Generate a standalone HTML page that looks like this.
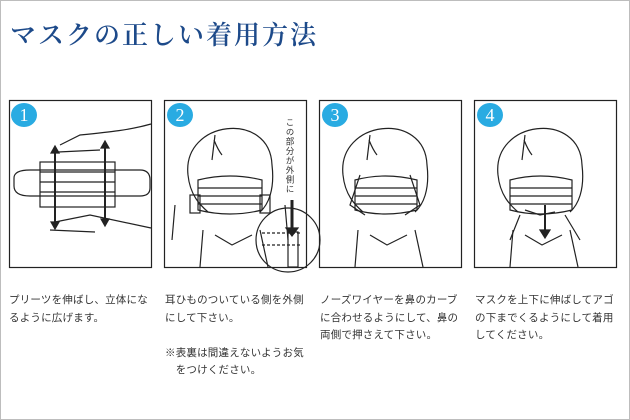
<!DOCTYPE html>
<html><head><meta charset="utf-8"><style>
html,body{margin:0;padding:0;background:#fff}
body{width:630px;height:420px;position:relative;overflow:hidden;font-family:"Liberation Sans","Noto Sans CJK JP",sans-serif}
.frame{position:absolute;left:0;top:0;width:628px;height:418px;border:1px solid #bdbdbd}
h1{position:absolute;left:10px;top:21px;margin:0;font-family:"Liberation Serif","Noto Serif CJK SC",serif;font-weight:600;font-size:26px;line-height:30px;color:#1d4a8a;letter-spacing:2px}
.t{position:absolute;top:292px;font-size:10.5px;line-height:17.5px;color:#333;width:142px;letter-spacing:0.2px}
.v{position:absolute;left:284px;top:118px;writing-mode:vertical-rl;font-size:8.5px;color:#333;letter-spacing:1px}
</style></head><body>
<div class="frame"></div>
<h1>マスクの正しい着用方法</h1>
<svg width="630" height="420" style="position:absolute;left:0;top:0" fill="none" stroke="#222" stroke-width="1.2">
<rect x="9.5" y="100.5" width="142" height="167"/>
<rect x="164.5" y="100.5" width="142" height="167"/>
<rect x="319.5" y="100.5" width="142" height="167"/>
<rect x="474.5" y="100.5" width="142" height="167"/>
<g fill="#29abe2" stroke="none">
<ellipse cx="24" cy="115" rx="13" ry="12"/><ellipse cx="180" cy="115" rx="13" ry="12"/>
<ellipse cx="335" cy="115" rx="13" ry="12"/><ellipse cx="490" cy="115" rx="13" ry="12"/>
</g>
<g fill="#fff" stroke="none" font-family="Liberation Serif,serif" font-size="18" text-anchor="middle">
<text x="24" y="121">1</text><text x="180" y="121">2</text><text x="335" y="121">3</text><text x="490" y="121">4</text>
</g>
<path d="M151 124 C130 130 110 132 80 135 L60 145 M58 152 L100 150"/>
<path d="M14 178 Q14 170 30 170 L140 170 Q150 170 150 180 L150 188 Q150 196 140 196 L30 196 Q14 196 14 186 Z"/>
<rect x="40" y="162" width="75" height="45"/>
<path d="M40 172 H115 M40 182 H115 M40 192 H115"/>
<path d="M55 222 L90 215 L151 228 M50 230 L95 232"/>
<g stroke-width="2"><path d="M55 150 V225 M105 145 V222"/></g>
<g fill="#222"><path d="M51 153 L55 146 L59 153Z M51 222 L55 229 L59 222Z M101 148 L105 141 L109 148Z M101 219 L105 226 L109 219Z"/></g>
<g id="f">
<path d="M188 175 C182 120 270 110 272 165 C275 190 268 205 260 212 M188 175 C190 195 200 205 208 212"/>
<path d="M215 135 L212 160 M214 140 Q218 150 222 155"/>
<path d="M203 230 L200 267 M260 230 L268 267 M215 235 L232 245 L252 235"/>
</g>
<path d="M198 180 Q230 172 262 180 L262 210 Q230 218 198 210 Z"/>
<path d="M198 188 H262 M198 196 H262 M198 204 H262"/>
<rect x="190" y="195" width="10" height="18"/><rect x="260" y="195" width="10" height="18"/>
<path d="M175 205 L172 240 M285 205 L288 240"/>
<circle cx="288" cy="240" r="32"/>
<path d="M262 233 H300 M262 245 H300" stroke-dasharray="3 2"/>
<rect x="288" y="232" width="10" height="35"/>
<path d="M292 200 V230" stroke-width="3"/><path d="M286 228 L292 236 L298 228Z" fill="#222"/>
<use href="#f" x="155"/>
<path d="M355 180 Q385 172 417 180 L417 210 Q385 218 355 210 Z"/>
<path d="M355 188 H417 M355 196 H417 M355 204 H417"/>
<path d="M360 175 L350 205 L365 215 M410 175 L420 205 L405 215"/>
<use href="#f" x="310"/>
<path d="M510 180 Q540 172 572 180 L572 210 Q540 218 510 210 Z"/>
<path d="M510 188 H572 M510 196 H572 M510 204 H572"/>
<path d="M520 215 L510 240 M565 215 L580 240 M525 210 L540 215 L555 212"/>
<path d="M545 205 V232" stroke-width="2"/><path d="M540 230 L545 238 L550 230Z" fill="#222"/>
</svg>
<div class="v">この部分が外側に</div>
<div class="t" style="left:9px">プリーツを伸ばし、立体になるように広げます。</div>
<div class="t" style="left:165px">耳ひものついている側を外側にして下さい。<br><br>※表裏は間違えないようお気<br>　をつけください。</div>
<div class="t" style="left:320px">ノーズワイヤーを鼻のカーブに合わせるようにして、鼻の両側で押さえて下さい。</div>
<div class="t" style="left:475px">マスクを上下に伸ばしてアゴの下までくるようにして着用してください。</div>
</body></html>
